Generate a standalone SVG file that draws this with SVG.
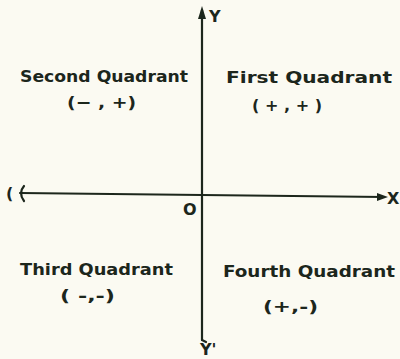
<svg xmlns="http://www.w3.org/2000/svg" width="400" height="359" viewBox="0 0 400 359">
<defs>
<style>
.t{font-family:"DejaVu Sans","Liberation Sans",sans-serif;font-weight:bold;fill:#1c261c;font-size:16px}
.ax{stroke:#1c261c;stroke-width:2.2;fill:none;stroke-linecap:round}
</style>
</defs>
<rect width="400" height="359" fill="#fbfaf2"/>
<g id="connectors">
<path class="ax" d="M202,340 L202,10" stroke-width="2.5"/>
<path d="M202,6 L206,19 L198,19 z" fill="#1c261c"/>
<path class="ax" d="M202,340 L206,342"/>
<path class="ax" d="M20,193 L384,197"/>
<path d="M388,197 L377,193 L377,201 z" fill="#1c261c"/>
<path class="ax" d="M24,186 Q18,193 24,201"/>
</g>
<g id="labels-axes">
<text class="t" x="209" y="22" font-size="15">Y</text>
<text class="t" x="387" y="204" font-size="15">X</text>
<text class="t" x="6" y="199" font-size="14">(</text>
<text class="t" x="183" y="215" font-size="15">O</text>
<text class="t" x="200" y="355" font-size="12">Y'</text>
</g>
<g id="q2">
<text class="t" x="20" y="82" textLength="168" lengthAdjust="spacingAndGlyphs">Second Quadrant</text>
<text class="t" x="67" y="108" textLength="69" lengthAdjust="spacingAndGlyphs">(− , +)</text>
</g>
<g id="q1">
<text class="t" x="226" y="83" textLength="166" lengthAdjust="spacingAndGlyphs">First Quadrant</text>
<text class="t" x="252" y="111" textLength="70" lengthAdjust="spacingAndGlyphs">( + , + )</text>
</g>
<g id="q3">
<text class="t" x="20" y="275" textLength="153" lengthAdjust="spacingAndGlyphs">Third Quadrant</text>
<text class="t" x="60" y="301" textLength="55" lengthAdjust="spacingAndGlyphs">( -,-)</text>
</g>
<g id="q4">
<text class="t" x="223" y="277" textLength="172" lengthAdjust="spacingAndGlyphs">Fourth Quadrant</text>
<text class="t" x="263" y="312" textLength="55" lengthAdjust="spacingAndGlyphs">(+,-)</text>
</g>
</svg>
